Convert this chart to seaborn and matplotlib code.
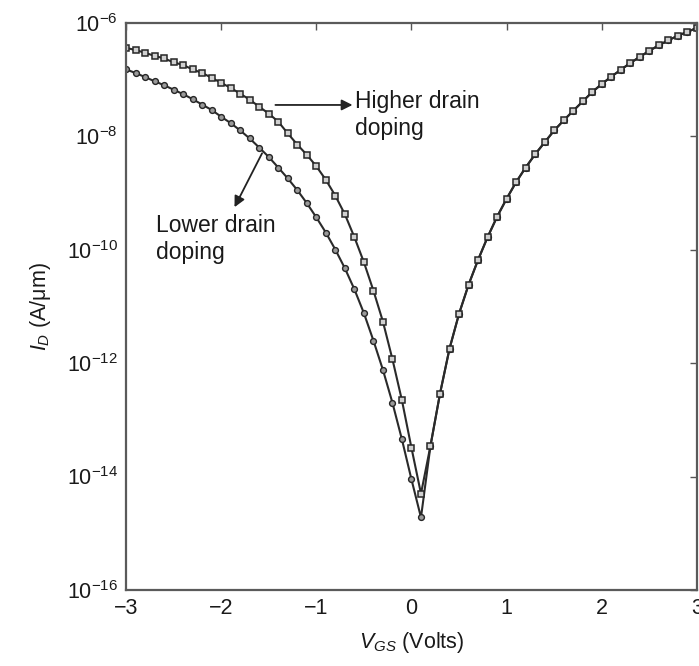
import numpy as np
import pandas as pd
import matplotlib
matplotlib.use("Agg")
import matplotlib.pyplot as plt
import seaborn as sns

# Gate voltage grid (V)
v_gs = [round(-3.0 + 0.1 * i, 1) for i in range(61)]

# Drain current (A/um), branch left of the minimum, higher drain doping
id_high_left = [
    3.6e-7, 3.3e-7, 2.95e-7, 2.6e-7, 2.35e-7, 2.0e-7, 1.8e-7, 1.5e-7, 1.3e-7, 1.07e-7,
    8.7e-8, 7.1e-8, 5.6e-8, 4.4e-8, 3.3e-8, 2.5e-8, 1.8e-8, 1.12e-8, 7.1e-9, 4.7e-9,
    2.95e-9, 1.7e-9, 8.9e-10, 4.2e-10, 1.66e-10, 6.0e-11, 1.9e-11, 5.4e-12, 1.17e-12,
    2.2e-13, 3.2e-14, 5.0e-15,
]
# Drain current (A/um), branch left of the minimum, lower drain doping
id_low_left = [
    1.5e-7, 1.3e-7, 1.1e-7, 9.3e-8, 7.9e-8, 6.6e-8, 5.5e-8, 4.5e-8, 3.6e-8, 2.9e-8,
    2.2e-8, 1.7e-8, 1.26e-8, 9.1e-9, 6.3e-9, 4.3e-9, 2.8e-9, 1.8e-9, 1.12e-9, 6.6e-10,
    3.7e-10, 2.0e-10, 1.0e-10, 4.7e-11, 2.0e-11, 7.6e-12, 2.5e-12, 7.6e-13, 2.0e-13,
    4.5e-14, 8.9e-15, 1.9e-15,
]
# Shared branch, V_GS = 0.2 ... 3.0 V
id_right = [
    3.5e-14, 2.9e-13, 1.8e-12, 7.4e-12, 2.4e-11, 6.6e-11, 1.66e-10, 3.8e-10, 7.9e-10,
    1.55e-9, 2.8e-9, 4.8e-9, 7.8e-9, 1.26e-8, 1.9e-8, 2.8e-8, 4.1e-8, 6.0e-8, 8.3e-8,
    1.12e-7, 1.48e-7, 1.95e-7, 2.5e-7, 3.2e-7, 4.0e-7, 4.9e-7, 5.9e-7, 6.9e-7, 8.1e-7,
]

series_names = ["Lower drain doping", "Higher drain doping"]
x_ticks = [-3, -2, -1, 0, 1, 2, 3]
y_ticks = [1e-16, 1e-14, 1e-12, 1e-10, 1e-8, 1e-6]

id_high = id_high_left + id_right
id_low = id_low_left + id_right

df = pd.DataFrame({
    "V": v_gs * 2,
    "I": id_low + id_high,
    "series": [series_names[0]] * len(v_gs) + [series_names[1]] * len(v_gs),
})

sns.set_style("white")
plt.rcParams["font.family"] = ["Liberation Sans", "DejaVu Sans"]
plt.rcParams["mathtext.fontset"] = "custom"
plt.rcParams["mathtext.rm"] = "Liberation Sans"
plt.rcParams["mathtext.it"] = "Liberation Sans:italic"
plt.rcParams["mathtext.default"] = "regular"

fig = plt.figure(figsize=(6.99, 6.66), dpi=100)
ax = fig.add_axes([0.1803, 0.1141, 0.8167, 0.8518])

line_col = "#2a2a2a"
sns.lineplot(
    data=df, x="V", y="I", hue="series", style="series",
    hue_order=series_names, style_order=series_names,
    palette={series_names[0]: line_col, series_names[1]: line_col},
    markers={series_names[0]: "o", series_names[1]: "s"},
    dashes=False, linewidth=1.5, legend=False, ax=ax,
    estimator=None, sort=False,
)

# marker appearance per curve
lines = ax.get_lines()
lines[0].set_markersize(4.2)
lines[0].set_markerfacecolor("#9a9a9a")
lines[0].set_markeredgecolor("#262626")
lines[0].set_markeredgewidth(1.0)
lines[1].set_markersize(4.8)
lines[1].set_markerfacecolor("#d0d0d0")
lines[1].set_markeredgecolor("#262626")
lines[1].set_markeredgewidth(1.1)

ax.set_yscale("log")
ax.set_xlim(-3, 3)
ax.set_ylim(1e-16, 1e-6)
ax.set_xticks(x_ticks)
ax.set_yticks(y_ticks)
ax.yaxis.set_minor_locator(matplotlib.ticker.NullLocator())

ax.tick_params(axis="both", which="major", direction="in", length=5, width=1.0,
               colors="#555555", labelcolor="#1a1a1a", labelsize=15.5,
               top=True, right=True, pad=6)
for sp in ax.spines.values():
    sp.set_color("#5a5a5a")
    sp.set_linewidth(1.6)

ax.set_xlabel(r"$\mathit{V}_{\mathit{GS}}$ (Volts)", fontsize=15.5, color="#1a1a1a", labelpad=8)
ax.set_ylabel(r"$\mathit{I}_{\mathit{D}}$ (A/μm)", fontsize=15.5, color="#1a1a1a", labelpad=10)

# annotations
arrow_kw = dict(arrowstyle="-|>", color="#222222", lw=1.3, mutation_scale=16,
                shrinkA=0, shrinkB=0)
ax.annotate("", xy=(-0.62, 3.55e-8), xytext=(-1.43, 3.55e-8), arrowprops=arrow_kw)
ax.text(-0.59, 6.5e-8, "Higher drain\ndoping", fontsize=16.5, color="#1a1a1a",
        ha="left", va="top", linespacing=1.2)

ax.annotate("", xy=(-1.86, 5.6e-10), xytext=(-1.57, 5.0e-9), arrowprops=arrow_kw)
ax.text(-2.69, 4.2e-10, "Lower drain\ndoping", fontsize=16.5, color="#1a1a1a",
        ha="left", va="top", linespacing=1.2)

fig.savefig("out.png", dpi=100)
